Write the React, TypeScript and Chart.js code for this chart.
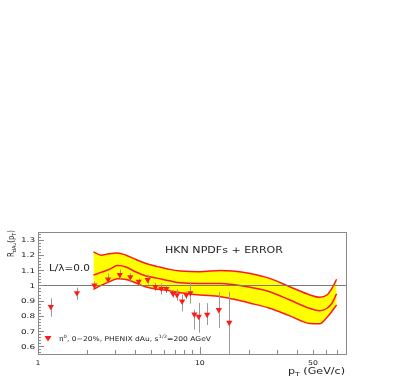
import React, { useEffect, useRef } from 'react';
import { Chart, registerables } from 'chart.js';
Chart.register(...registerables);

// HKN nPDF band (pT in GeV/c)
const BAND_X = [2.2, 2.45, 2.75, 3.1, 3.5, 4, 4.6, 5.5, 6.5, 7.6, 10, 13.4, 16, 20.5, 27, 36, 48, 55, 61, 65.5, 70];
const BAND_UPPER = [1.22, 1.198, 1.208, 1.213, 1.198, 1.171, 1.145, 1.123, 1.105, 1.095, 1.09, 1.098, 1.095, 1.078, 1.046, 0.991, 0.937, 0.922, 0.937, 0.98, 1.04];
const BAND_CENTRAL = [1.067, 1.085, 1.104, 1.13, 1.12, 1.089, 1.063, 1.046, 1.03, 1.017, 1.013, 1.012, 1.005, 0.987, 0.958, 0.904, 0.848, 0.834, 0.85, 0.883, 0.945];
const BAND_LOWER = [0.974, 1.0, 1.023, 1.044, 1.039, 1.017, 0.991, 0.974, 0.965, 0.952, 0.937, 0.926, 0.91, 0.883, 0.85, 0.8, 0.75, 0.748, 0.79, 0.83, 0.872];

// PHENIX pi0 dAu data
const PT = [1.2, 1.74, 2.23, 2.71, 3.2, 3.72, 4.19, 4.76, 5.31, 5.78, 6.21, 6.83, 7.23, 7.77, 8.25, 8.74, 9.25, 9.84, 11.1, 13.1, 15.2];
const RDAU = [0.86, 0.95, 1.0, 1.04, 1.07, 1.055, 1.025, 1.037, 0.99, 0.98, 0.978, 0.945, 0.937, 0.895, 0.937, 0.95, 0.81, 0.795, 0.808, 0.84, 0.756];
const ERR_LO = [0.795, 0.905, 0.98, 1.013, 1.039, 1.02, 1.0, 1.005, 0.965, 0.94, 0.95, 0.92, 0.9, 0.83, 0.91, 0.88, 0.71, 0.69, 0.74, 0.72, 0.55];
const ERR_HI = [0.915, 0.985, 1.025, 1.078, 1.104, 1.08, 1.045, 1.07, 1.015, 1.013, 1.0, 0.97, 0.975, 0.94, 0.96, 1.02, 0.84, 0.885, 0.883, 0.958, 0.958];

// axis ticks
const Y_TICKS = [0.6, 0.7, 0.8, 0.9, 1.0, 1.1, 1.2, 1.3];
const X_MAJOR = [1, 10];
const X_MINOR = [2, 3, 4, 5, 6, 7, 8, 9, 20, 30, 40, 50, 60, 70];
const X_LABELS = [1, 10, 50];

const FONT = '"DejaVu Sans", "Liberation Sans", sans-serif';
const RED = '#ff1a1a';

type Seg = { t: string; s?: 'sup' | 'sub' };

function drawSegs(ctx: CanvasRenderingContext2D, segs: Seg[], x: number, y: number, size: number, targetW: number) {
  ctx.save();
  let total = 0;
  const widths: number[] = [];
  for (const sg of segs) {
    const fs = sg.s ? size * 0.7 : size;
    ctx.font = `${fs}px ${FONT}`;
    const w = ctx.measureText(sg.t).width;
    widths.push(w);
    total += w;
  }
  const sx = targetW / total;
  ctx.translate(x, y);
  ctx.scale(sx, 1);
  let cx = 0;
  segs.forEach((sg, i) => {
    const fs = sg.s ? size * 0.7 : size;
    ctx.font = `${fs}px ${FONT}`;
    const dy = sg.s === 'sup' ? -size * 0.45 : sg.s === 'sub' ? size * 0.3 : 0;
    ctx.fillText(sg.t, cx, dy);
    cx += widths[i];
  });
  ctx.restore();
}

function stretchedWidth(ctx: CanvasRenderingContext2D, t: string, size: number, sx: number) {
  ctx.font = `${size}px ${FONT}`;
  return ctx.measureText(t).width * sx;
}

function drawStretch(ctx: CanvasRenderingContext2D, t: string, x: number, y: number, size: number, sx: number) {
  ctx.save();
  ctx.font = `${size}px ${FONT}`;
  ctx.translate(x, y);
  ctx.scale(sx, 1);
  ctx.fillText(t, 0, 0);
  ctx.restore();
}

const decor = {
  id: 'decor',
  beforeDatasetDraw(chart: any, args: any) {
    if (args.index !== 0) return;
    const { ctx, chartArea: a, scales } = chart;
    const x = scales.x, y = scales.y;
    ctx.save();
    ctx.beginPath();
    ctx.rect(a.left, a.top, a.right - a.left, a.bottom - a.top);
    ctx.clip();
    const y1 = Math.round(y.getPixelForValue(1)) + 0.5;
    ctx.strokeStyle = '#7a7a7a';
    ctx.lineWidth = 1;
    ctx.beginPath();
    ctx.moveTo(a.left, y1);
    ctx.lineTo(a.right, y1);
    ctx.stroke();
    ctx.strokeStyle = '#9a9a9a';
    ctx.beginPath();
    PT.forEach((p, i) => {
      const px = Math.round(x.getPixelForValue(p)) + 0.5;
      ctx.moveTo(px, y.getPixelForValue(ERR_HI[i]));
      ctx.lineTo(px, y.getPixelForValue(ERR_LO[i]));
    });
    ctx.stroke();
    ctx.restore();
  },
  afterDraw(chart: any) {
    const { ctx, chartArea: a, scales } = chart;
    const x = scales.x, y = scales.y;
    ctx.save();
    // frame
    ctx.strokeStyle = '#8a8a8a';
    ctx.lineWidth = 1;
    ctx.strokeRect(Math.round(a.left) + 0.5, Math.round(a.top) + 0.5, Math.round(a.right - a.left), Math.round(a.bottom - a.top));
    // y ticks
    ctx.beginPath();
    for (let v = 0.56; v < 1.35; v += 0.02) {
      const py = Math.round(y.getPixelForValue(v)) + 0.5;
      const major = Math.abs(v * 10 - Math.round(v * 10)) < 1e-6;
      ctx.moveTo(a.left, py);
      ctx.lineTo(a.left + (major ? 6 : 3), py);
    }
    // x ticks
    X_MAJOR.forEach((v) => {
      const px = Math.round(x.getPixelForValue(v)) + 0.5;
      ctx.moveTo(px, a.bottom);
      ctx.lineTo(px, a.bottom - 7);
    });
    X_MINOR.forEach((v) => {
      const px = Math.round(x.getPixelForValue(v)) + 0.5;
      ctx.moveTo(px, a.bottom);
      ctx.lineTo(px, a.bottom - 4);
    });
    ctx.stroke();

    ctx.fillStyle = '#222';
    ctx.textBaseline = 'alphabetic';
    // y tick labels
    Y_TICKS.forEach((v) => {
      const t = v === 1 ? '1' : v.toFixed(1);
      const w = stretchedWidth(ctx, t, 6.5, 1.36);
      drawStretch(ctx, t, a.left - 3 - w, y.getPixelForValue(v) + 2.4, 6.5, 1.36);
    });
    // x tick labels
    X_LABELS.forEach((v) => {
      const t = String(v);
      const w = stretchedWidth(ctx, t, 6.5, 1.2);
      drawStretch(ctx, t, x.getPixelForValue(v) - w / 2, a.bottom + 11, 6.5, 1.2);
    });
    // x title
    drawSegs(ctx, [{ t: 'p' }, { t: 'T', s: 'sub' }, { t: ' (GeV/c)' }], a.right - 58, a.bottom + 20, 8, 57);
    // y title
    ctx.save();
    ctx.translate(a.left - 24.5, a.top + 25);
    ctx.rotate(-Math.PI / 2);
    drawSegs(ctx, [{ t: 'R' }, { t: 'dAu', s: 'sub' }, { t: '(p' }, { t: 'T', s: 'sub' }, { t: ')' }], 0, 0, 8, 27);
    ctx.restore();
    // annotations
    drawSegs(ctx, [{ t: 'HKN NPDFs + ERROR' }], a.left + 127, a.top + 20.5, 8, 118);
    drawSegs(ctx, [{ t: 'L/λ=0.0' }], a.left + 11, a.top + 38.5, 8, 41);
    // legend
    const lx = a.left + 10, ly = a.bottom - 15.5;
    ctx.fillStyle = RED;
    ctx.beginPath();
    ctx.moveTo(lx - 3.5, ly - 2.5);
    ctx.lineTo(lx + 3.5, ly - 2.5);
    ctx.lineTo(lx, ly + 3);
    ctx.closePath();
    ctx.fill();
    ctx.fillStyle = '#222';
    drawSegs(ctx, [
      { t: 'π' }, { t: '0', s: 'sup' }, { t: ', 0−20%, PHENIX dAu, s' }, { t: '1/2', s: 'sup' }, { t: '=200 AGeV' },
    ], a.left + 21, a.bottom - 13.5, 6.5, 152);
    ctx.restore();
  },
};

export default function App() {
  const ref = useRef<HTMLCanvasElement | null>(null);
  useEffect(() => {
    if (!ref.current) return;
    const pts = (xs: number[], ys: number[]) => xs.map((v, i) => ({ x: v, y: ys[i] }));
    const chart = new Chart(ref.current, {
      type: 'line',
      data: {
        datasets: [
          {
            label: 'PHENIX',
            data: pts(PT, RDAU),
            showLine: false,
            pointStyle: 'triangle',
            rotation: 180,
            pointRadius: 3.6,
            backgroundColor: RED,
            borderColor: RED,
            borderWidth: 0,
          },
          {
            label: 'central',
            data: pts(BAND_X, BAND_CENTRAL),
            borderColor: RED,
            borderWidth: 1.5,
            pointRadius: 0,
            cubicInterpolationMode: 'monotone',
            fill: false,
          },
          {
            label: 'upper',
            data: pts(BAND_X, BAND_UPPER),
            borderColor: RED,
            borderWidth: 1.5,
            pointRadius: 0,
            cubicInterpolationMode: 'monotone',
            backgroundColor: '#ffff00',
            fill: '+1',
          },
          {
            label: 'lower',
            data: pts(BAND_X, BAND_LOWER),
            borderColor: RED,
            borderWidth: 1.5,
            pointRadius: 0,
            cubicInterpolationMode: 'monotone',
            fill: false,
          },
        ],
      },
      options: {
        animation: false,
        responsive: false,
        layout: { padding: { top: 232, right: 69, bottom: 0, left: 0 } },
        plugins: {
          legend: { display: false },
          tooltip: { enabled: false },
          filler: { drawTime: 'beforeDatasetsDraw' },
        },
        scales: {
          x: {
            type: 'logarithmic',
            min: 1,
            max: 80,
            ticks: { display: false },
            grid: { display: false, drawTicks: false },
            border: { display: false },
            afterFit: (s: any) => { s.height = 28; },
          },
          y: {
            type: 'linear',
            min: 0.55,
            max: 1.35,
            ticks: { display: false },
            grid: { display: false, drawTicks: false },
            border: { display: false },
            afterFit: (s: any) => { s.width = 38; },
          },
        },
      } as any,
      plugins: [decor],
    });
    return () => chart.destroy();
  }, []);
  return (
    <canvas
      ref={ref}
      width={415}
      height={382}
      style={{ position: 'absolute', left: 0, top: 0, width: 415, height: 382, background: '#fff' }}
    />
  );
}
